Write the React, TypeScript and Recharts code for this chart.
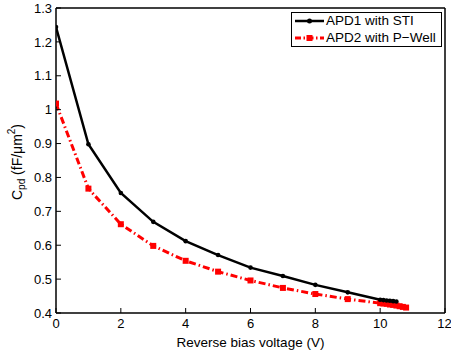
import { Legend, Line, LineChart, XAxis, YAxis, Label } from "recharts";

// Capacitance per unit area vs reverse bias, two APD structures.
const voltageSti = [0, 1, 2, 3, 4, 5, 6, 7, 8, 9, 10, 10.1, 10.2, 10.3, 10.4, 10.5];
const cpdSti = [1.244, 0.898, 0.754, 0.669, 0.612, 0.571, 0.534, 0.509, 0.483, 0.461, 0.439, 0.438, 0.437, 0.436, 0.435, 0.434];

const voltagePwell = [0, 1, 2, 3, 4, 5, 6, 7, 8, 9, 10, 10.1, 10.2, 10.3, 10.4, 10.5, 10.6, 10.7, 10.8];
const cpdPwell = [1.018, 0.767, 0.662, 0.598, 0.554, 0.522, 0.496, 0.474, 0.456, 0.441, 0.429, 0.428, 0.427, 0.425, 0.424, 0.422, 0.42, 0.418, 0.416];

const xTicks = [0, 2, 4, 6, 8, 10, 12];
const yTicks = [0.4, 0.5, 0.6, 0.7, 0.8, 0.9, 1, 1.1, 1.2, 1.3];

const seriesNames = ["APD1 with STI", "APD2 with P\u2212Well"];

const FONT = "'Liberation Sans', Arial, sans-serif";
const TICK = { fontFamily: FONT, fontSize: 13, fill: "#000" };
const RED = "#ff0000";

const stiData = voltageSti.map((v, i) => ({ v, c: cpdSti[i] }));
const pwellData = voltagePwell.map((v, i) => ({ v, c: cpdPwell[i] }));

const fmtY = (v: number) => String(Number(v.toFixed(1)));

function Square(props: { cx?: number; cy?: number }) {
  const { cx, cy } = props;
  if (cx == null || cy == null) return null;
  return <rect x={cx - 3} y={cy - 3} width={6} height={6} fill={RED} />;
}

// MATLAB-style rotated title with subscript and superscript.
function YTitle() {
  const cx = 18;
  const cy = 162;
  return (
    <text
      transform={`rotate(-90 ${cx} ${cy})`}
      x={cx}
      y={cy}
      textAnchor="middle"
      dominantBaseline="middle"
      fontFamily={FONT}
      fontSize={14}
      fill="#000"
    >
      C<tspan fontSize={10} dy={4}>pd</tspan>
      <tspan dy={-4}> (fF/μm</tspan>
      <tspan fontSize={10} dy={-6}>2</tspan>
      <tspan dy={6}>)</tspan>
    </text>
  );
}

function LegendBox() {
  const row = { position: "absolute" as const, left: 34, lineHeight: "16px", whiteSpace: "nowrap" as const };
  return (
    <div
      style={{
        border: "1px solid #000",
        background: "#fff",
        width: 151,
        height: 35,
        boxSizing: "border-box",
        fontFamily: FONT,
        fontSize: 13.5,
        position: "relative",
        color: "#000",
      }}
    >
      <svg width={34} height={33} style={{ position: "absolute", left: 0, top: 0 }}>
        <line x1={3} x2={32} y1={8} y2={8} stroke="#000" strokeWidth={2.5} />
        <circle cx={17.5} cy={8} r={2.5} fill="#000" />
        <line x1={3} x2={32} y1={25} y2={25} stroke={RED} strokeWidth={3} strokeDasharray="6 2.5 1.5 2.5" />
        <rect x={14.5} y={22} width={6} height={6} fill={RED} />
      </svg>
      <div style={{ ...row, top: 0 }}>{seriesNames[0]}</div>
      <div style={{ ...row, top: 17 }}>{seriesNames[1]}</div>
    </div>
  );
}

export default function App() {
  return (
    <div style={{ position: "absolute", left: 0, top: 0, width: 451, height: 354, background: "#fff" }}>
      <LineChart width={451} height={354} margin={{ top: 8, right: 6, bottom: 0, left: 0 }}>
        <XAxis
          xAxisId="b"
          dataKey="v"
          type="number"
          domain={[0, 12]}
          ticks={xTicks}
          allowDataOverflow
          height={41}
          tick={TICK}
          tickSize={-5}
          tickMargin={11}
          tickLine={{ stroke: "#000" }}
          axisLine={{ stroke: "#000", strokeWidth: 1.5 }}
        >
          <Label
            value="Reverse bias voltage (V)"
            position="insideBottom"
            offset={7}
            style={{ fontFamily: FONT, fontSize: 13.5, fill: "#000" }}
          />
        </XAxis>
        <XAxis
          xAxisId="t"
          orientation="top"
          dataKey="v"
          type="number"
          domain={[0, 12]}
          ticks={xTicks}
          mirror
          height={1}
          tick={false}
          tickSize={5}
          tickLine={{ stroke: "#000" }}
          axisLine={{ stroke: "#000", strokeWidth: 1.5 }}
        />
        <YAxis
          yAxisId="l"
          type="number"
          domain={[0.4, 1.3]}
          ticks={yTicks}
          allowDataOverflow
          width={56}
          tick={TICK}
          tickFormatter={fmtY}
          tickSize={-5}
          tickMargin={9}
          tickLine={{ stroke: "#000" }}
          axisLine={{ stroke: "#000", strokeWidth: 1.5 }}
        >
          <Label content={<YTitle />} />
        </YAxis>
        <YAxis
          yAxisId="r"
          orientation="right"
          type="number"
          domain={[0.4, 1.3]}
          ticks={yTicks}
          mirror
          width={1}
          tick={false}
          tickSize={5}
          tickLine={{ stroke: "#000" }}
          axisLine={{ stroke: "#000", strokeWidth: 1.5 }}
        />
        <Legend
          layout="vertical"
          align="center"
          verticalAlign="middle"
          content={<LegendBox />}
          wrapperStyle={{ top: 12, left: 291, width: 151, height: 35 }}
        />
        <Line
          xAxisId="b"
          yAxisId="l"
          data={pwellData}
          dataKey="c"
          name={seriesNames[1]}
          type="linear"
          stroke={RED}
          strokeWidth={3}
          strokeDasharray="7 3 1.5 3"
          dot={<Square />}
          isAnimationActive={false}
        />
        <Line
          xAxisId="b"
          yAxisId="l"
          data={stiData}
          dataKey="c"
          name={seriesNames[0]}
          type="linear"
          stroke="#000"
          strokeWidth={2.5}
          dot={{ r: 2.3, fill: "#000", stroke: "none" }}
          isAnimationActive={false}
        />
      </LineChart>
    </div>
  );
}
